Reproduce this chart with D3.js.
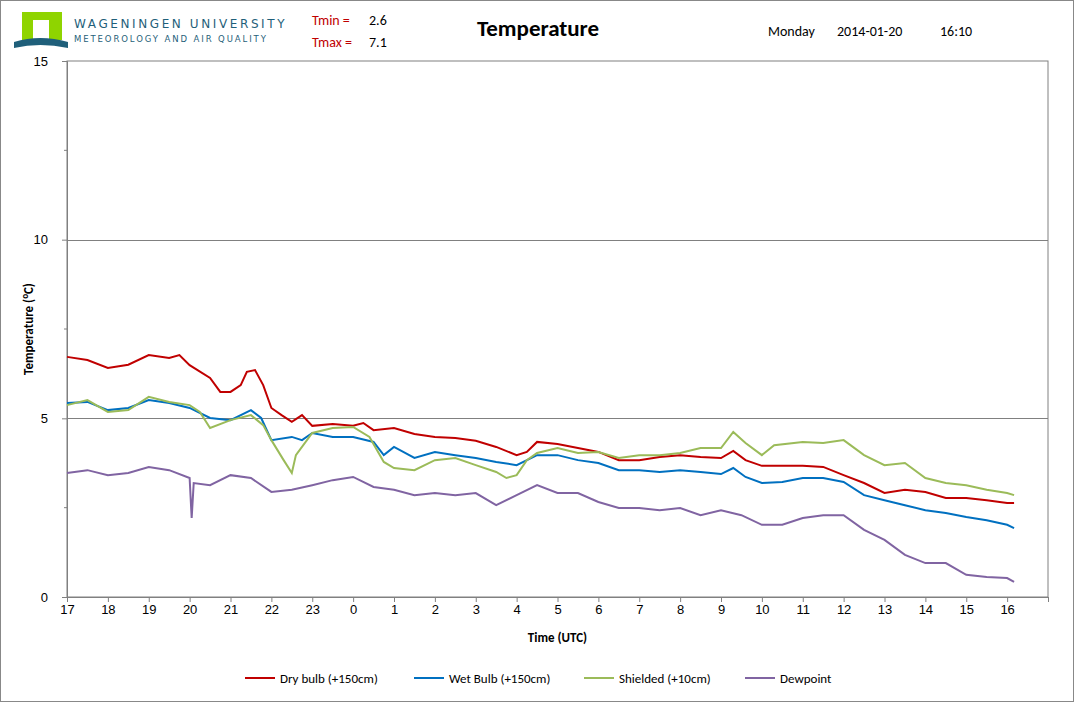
<!DOCTYPE html>
<html><head><meta charset="utf-8">
<script src="https://cdn.jsdelivr.net/npm/d3@7"></script>
<style>body{margin:0;background:#fff;font-family:Calibri,Carlito,"Liberation Sans",Arial,sans-serif}</style>
</head><body><svg id="chart"></svg>
<script>
const width = 1074, height = 702;
const padding = { left: 67, right: 26, top: 61, down: 105 };

// hours since 17:00 on the previous day
const hourLabels = ['17','18','19','20','21','22','23','0','1','2','3','4','5','6','7','8','9','10','11','12','13','14','15','16'];

const dryT = [0,0.5,1,1.5,2,2.5,2.75,3,3.5,3.75,4,4.25,4.4,4.6,4.8,5,5.25,5.5,5.75,6,6.5,7,7.25,7.5,8,8.5,9,9.5,10,10.5,11,11.25,11.5,12,12.5,13,13.5,14,14.5,15,15.5,16,16.3,16.6,17,17.5,18,18.5,19,19.5,20,20.5,21,21.5,22,22.5,23,23.17];
const dryV = [6.72,6.63,6.41,6.5,6.77,6.69,6.77,6.49,6.13,5.74,5.74,5.93,6.3,6.35,5.93,5.29,5.09,4.9,5.09,4.79,4.84,4.79,4.87,4.67,4.73,4.56,4.48,4.45,4.37,4.2,3.97,4.06,4.34,4.28,4.17,4.06,3.83,3.83,3.92,3.97,3.92,3.89,4.09,3.83,3.67,3.67,3.67,3.64,3.41,3.19,2.91,3.0,2.94,2.77,2.77,2.71,2.63,2.63];

const wetT = [0,0.5,1,1.5,2,2.5,3,3.5,4,4.5,4.75,5,5.5,5.75,6,6.5,7,7.5,7.75,8,8.5,9,9.5,10,10.5,11,11.5,12,12.5,13,13.5,14,14.5,15,15.5,16,16.3,16.6,17,17.5,18,18.5,19,19.5,20,20.5,21,21.5,22,22.5,23,23.17];
const wetV = [5.43,5.46,5.23,5.29,5.51,5.43,5.29,5.01,4.95,5.23,5.01,4.39,4.48,4.39,4.59,4.48,4.48,4.34,3.97,4.2,3.89,4.06,3.97,3.89,3.78,3.69,3.97,3.97,3.83,3.75,3.55,3.55,3.5,3.55,3.5,3.44,3.61,3.36,3.19,3.22,3.33,3.33,3.22,2.85,2.71,2.57,2.43,2.35,2.24,2.15,2.02,1.93];

const shieldT = [0,0.5,1,1.5,2,2.5,3,3.25,3.5,4,4.5,4.8,5,5.3,5.5,5.6,6,6.5,7,7.4,7.75,8,8.5,9,9.5,10,10.5,10.75,11,11.25,11.5,12,12.5,13,13.5,14,14.5,15,15.5,16,16.3,16.6,17,17.3,18,18.5,19,19.5,20,20.5,21,21.5,22,22.5,23,23.17];
const shieldV = [5.37,5.51,5.18,5.23,5.6,5.46,5.37,5.18,4.73,4.95,5.09,4.81,4.39,3.83,3.47,3.97,4.59,4.73,4.76,4.48,3.78,3.61,3.55,3.83,3.89,3.69,3.5,3.33,3.41,3.83,4.03,4.17,4.03,4.06,3.89,3.97,3.97,4.03,4.17,4.17,4.62,4.31,3.97,4.25,4.34,4.31,4.39,3.97,3.69,3.75,3.33,3.19,3.13,3.0,2.91,2.85];

const dewT = [0,0.5,1,1.5,2,2.5,3,3.05,3.1,3.5,4,4.5,5,5.5,6,6.5,7,7.5,8,8.5,9,9.5,10,10.5,11,11.5,12,12.5,13,13.5,14,14.5,15,15.5,16,16.5,17,17.5,18,18.5,19,19.5,20,20.5,21,21.5,22,22.5,23,23.17];
const dewV = [3.47,3.55,3.41,3.47,3.64,3.55,3.33,2.21,3.19,3.13,3.41,3.33,2.94,3.0,3.13,3.27,3.36,3.08,3.0,2.85,2.91,2.85,2.91,2.57,2.85,3.13,2.91,2.91,2.66,2.49,2.49,2.43,2.49,2.29,2.43,2.29,2.02,2.02,2.21,2.29,2.29,1.88,1.6,1.18,0.95,0.95,0.62,0.56,0.53,0.42];

const seriesNames = ['Dry bulb (+150cm)', 'Wet Bulb (+150cm)', 'Shielded (+10cm)', 'Dewpoint'];
const seriesColors = ['#c00000', '#0070c0', '#9bbb59', '#8064a2'];
const seriesT = [dryT, wetT, shieldT, dewT];
const seriesV = [dryV, wetV, shieldV, dewV];

const svg = d3.select('#chart').attr('width', width).attr('height', height);

svg.append('rect').attr('x', 0.5).attr('y', 0.5).attr('width', width - 1).attr('height', height - 1)
  .attr('fill', '#fff').attr('stroke', '#888');

const xScale = d3.scaleLinear().domain([0, 24]).range([padding.left, width - padding.right]);
const yScale = d3.scaleLinear().domain([0, 15]).range([height - padding.down, padding.top]);

// plot border + gridlines
svg.append('rect').attr('x', xScale(0)).attr('y', yScale(15))
  .attr('width', xScale(24) - xScale(0)).attr('height', yScale(0) - yScale(15))
  .attr('fill', 'none').attr('stroke', '#808080');
[5, 10].forEach(v => {
  svg.append('line').attr('x1', xScale(0)).attr('x2', xScale(24))
    .attr('y1', Math.round(yScale(v)) + 0.5).attr('y2', Math.round(yScale(v)) + 0.5).attr('stroke', '#808080');
});

// x axis
const xAxis = d3.axisBottom(xScale).tickValues(d3.range(0, 25)).tickSize(5)
  .tickFormat(d => hourLabels[d] || '');
const xAxisG = svg.append('g').attr('transform', `translate(0, ${yScale(0)})`).call(xAxis);
xAxisG.select('.domain').attr('stroke', '#808080');
xAxisG.selectAll('line').attr('stroke', '#808080');
xAxisG.selectAll('text').attr('font-size', 13).attr('fill', '#000').attr('font-family', 'inherit');

// y axis
const yAxis = d3.axisLeft(yScale).tickValues([0, 5, 10, 15]).tickSize(5).tickPadding(14);
const yAxisG = svg.append('g').attr('transform', `translate(${xScale(0)}, 0)`).call(yAxis);
yAxisG.select('.domain').attr('stroke', '#808080');
yAxisG.selectAll('line').attr('stroke', '#808080');
yAxisG.selectAll('text').attr('font-size', 13).attr('fill', '#000').attr('font-family', 'inherit');
[2.5, 7.5, 12.5].forEach(v => {
  svg.append('line').attr('x1', xScale(0) - 3).attr('x2', xScale(0))
    .attr('y1', yScale(v)).attr('y2', yScale(v)).attr('stroke', '#808080');
});

// lines
const line = d3.line().x(d => xScale(d[0])).y(d => yScale(d[1]));
seriesT.forEach((ts, i) => {
  svg.append('path').datum(ts.map((t, j) => [t, seriesV[i][j]]))
    .attr('d', line).attr('fill', 'none').attr('stroke', seriesColors[i]).attr('stroke-width', 2);
});

// axis labels
svg.append('text').attr('x', (xScale(0) + xScale(24)) / 2).attr('y', 642).attr('text-anchor', 'middle')
  .attr('font-size', 13).attr('font-weight', 'bold').text('Time (UTC)');
svg.append('text').attr('transform', `translate(33, ${(yScale(0) + yScale(15)) / 2}) rotate(-90)`)
  .attr('text-anchor', 'middle').attr('font-size', 13).attr('font-weight', 'bold')
  .html('Temperature (<tspan font-size="9" dy="-5">o</tspan><tspan dy="5">C)</tspan>');

// legend
const legendX = [245, 414, 584, 745];
seriesNames.forEach((n, i) => {
  const g = svg.append('g').attr('transform', `translate(${legendX[i]}, 678)`);
  g.append('line').attr('x1', 0).attr('x2', 30).attr('stroke', seriesColors[i]).attr('stroke-width', 2);
  g.append('text').attr('x', 35).attr('y', 5).attr('font-size', 13).text(n);
});

// header
svg.append('text').attr('x', 538).attr('y', 36).attr('text-anchor', 'middle')
  .attr('font-size', 23).attr('font-weight', 'bold').text('Temperature');
svg.append('text').attr('x', 768).attr('y', 36).attr('font-size', 14).text('Monday');
svg.append('text').attr('x', 837).attr('y', 36).attr('font-size', 14).text('2014-01-20');
svg.append('text').attr('x', 940).attr('y', 36).attr('font-size', 14).text('16:10');
svg.append('text').attr('x', 312).attr('y', 25).attr('font-size', 14).attr('fill', '#c00000').text('Tmin =');
svg.append('text').attr('x', 369).attr('y', 25).attr('font-size', 14).text('2.6');
svg.append('text').attr('x', 312).attr('y', 47).attr('font-size', 14).attr('fill', '#c00000').text('Tmax =');
svg.append('text').attr('x', 369).attr('y', 47).attr('font-size', 14).text('7.1');

// logo
const logo = svg.append('g');
logo.append('rect').attr('x', 22).attr('y', 12).attr('width', 40).attr('height', 28).attr('fill', '#8fd400');
logo.append('rect').attr('x', 33).attr('y', 20).attr('width', 16).attr('height', 20).attr('fill', '#fff');
logo.append('path').attr('d', 'M14,42 Q40,34 68,42 L68,48 Q40,42 14,48 Z').attr('fill', '#1f5f7a');
svg.append('text').attr('x', 74).attr('y', 28).attr('letter-spacing', 2.6)
  .attr('fill', '#1f5f7a').attr('font-family', 'DejaVu Sans, sans-serif').attr('font-size', 12).text('WAGENINGEN UNIVERSITY');
svg.append('text').attr('x', 74).attr('y', 42).attr('letter-spacing', 1.9)
  .attr('fill', '#1f5f7a').attr('font-family', 'DejaVu Sans, sans-serif').attr('font-size', 8.5).text('METEOROLOGY AND AIR QUALITY');
</script></body></html>
